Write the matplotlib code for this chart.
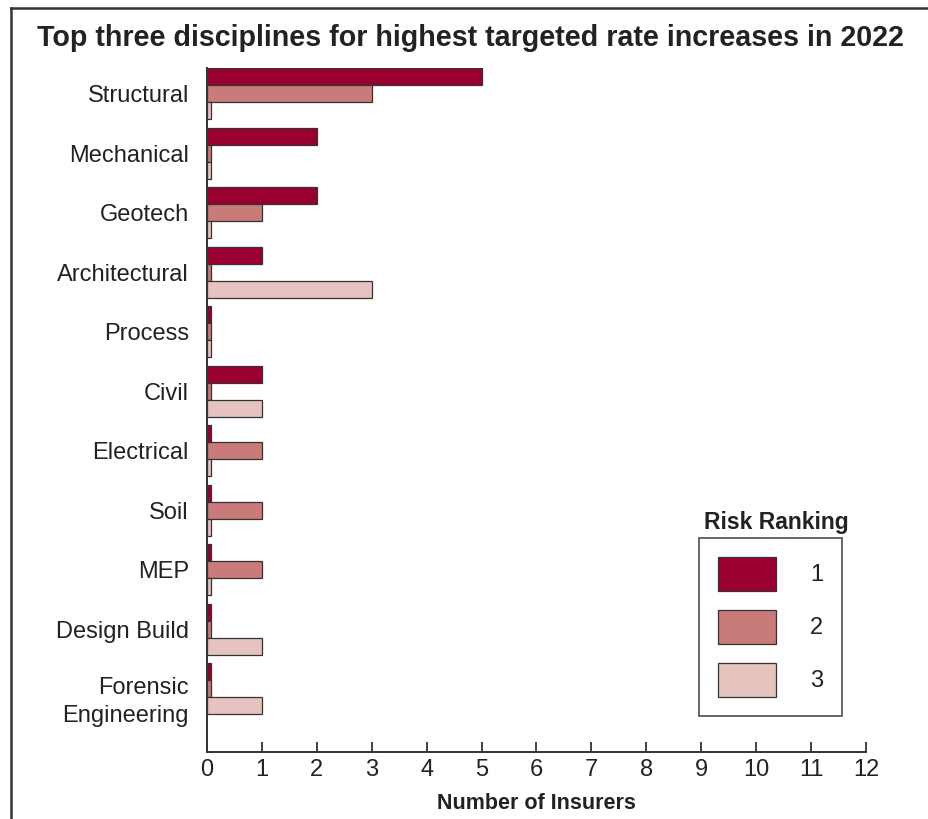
import numpy as np
import matplotlib
matplotlib.use('Agg')
import matplotlib.pyplot as plt
import matplotlib.transforms as mtransforms
from matplotlib.lines import Line2D

plt.rcParams['font.family'] = ['Liberation Sans', 'DejaVu Sans']

# data
disciplines = ['Structural', 'Mechanical', 'Geotech', 'Architectural', 'Process', 'Civil',
               'Electrical', 'Soil', 'MEP', 'Design Build', 'Forensic\nEngineering']
rank1 = [5, 2, 2, 1, 0, 1, 0, 0, 0, 0, 0]
rank2 = [3, 0, 1, 0, 0, 0, 1, 1, 1, 0, 0]
rank3 = [0, 0, 0, 3, 0, 1, 0, 0, 0, 1, 1]
rank_labels = ['1', '2', '3']
colors = ['#990030', '#C87B79', '#E6C3BE']

stub = 0.07  # zero counts still drawn as a thin sliver
h = 0.286

fig = plt.figure(figsize=(9.29, 8.19), dpi=100)
ax = fig.add_axes([0.2228, 0.0818, 0.7094, 0.8352])

y = np.arange(len(disciplines))
for k, vals in enumerate([rank1, rank2, rank3]):
    w = np.maximum(np.array(vals, dtype=float), stub)
    ax.barh(y + (k - 1) * h, w, height=h, color=colors[k], edgecolor='#333333',
            linewidth=0.9, label=rank_labels[k])

ax.set_ylim(11.06, -0.43)
ax.set_xlim(0, 12)
ax.set_xticks(range(13))
ax.set_yticks(y)
ax.set_yticklabels(disciplines, fontsize=17, linespacing=1.3, color='#222222')
ax.tick_params(axis='y', length=0, pad=13)
ax.tick_params(axis='x', direction='in', length=7, width=1.2, labelsize=17, pad=5,
               colors='#222222')
# two-line label sits a bit lower in the original
last = ax.get_yticklabels()[-1]
last.set_transform(last.get_transform() + mtransforms.ScaledTranslation(0, -8 / 100, fig.dpi_scale_trans))
for s in ['top', 'right']:
    ax.spines[s].set_visible(False)
for s in ['left', 'bottom']:
    ax.spines[s].set_linewidth(1.4)
    ax.spines[s].set_color('#333333')
ax.set_xlabel('Number of Insurers', fontsize=15.5, fontweight='bold', labelpad=9,
              color='#222222')

fig.text(470 / 929, 1 - 38 / 819, 'Top three disciplines for highest targeted rate increases in 2022',
         ha='center', va='center', fontsize=20.6, fontweight='bold', color='#222222')

leg = ax.legend(loc='upper left', bbox_to_anchor=(699 / 929, 1 - 538 / 819),
                bbox_transform=fig.transFigure, fontsize=17, frameon=True, fancybox=False,
                handlelength=2.46, handleheight=1.84, labelspacing=0.8, handletextpad=1.45,
                borderpad=0.8, borderaxespad=0, edgecolor='#222222')
leg.get_frame().set_linewidth(1.2)
for t in leg.get_texts():
    t.set_color('#222222')
fig.text(776 / 929, 1 - 522 / 819, 'Risk Ranking', ha='center', va='center',
         fontsize=16.5, fontweight='bold', color='#222222')

# outer frame: only left and top edges show in the crop
fig.add_artist(Line2D([11 / 929, 11 / 929], [0, 1 - 8 / 819], transform=fig.transFigure,
                      color='#333333', linewidth=1.8))
fig.add_artist(Line2D([11 / 929, 1], [1 - 8 / 819, 1 - 8 / 819], transform=fig.transFigure,
                      color='#333333', linewidth=1.8))

fig.savefig('out.png', dpi=100)
